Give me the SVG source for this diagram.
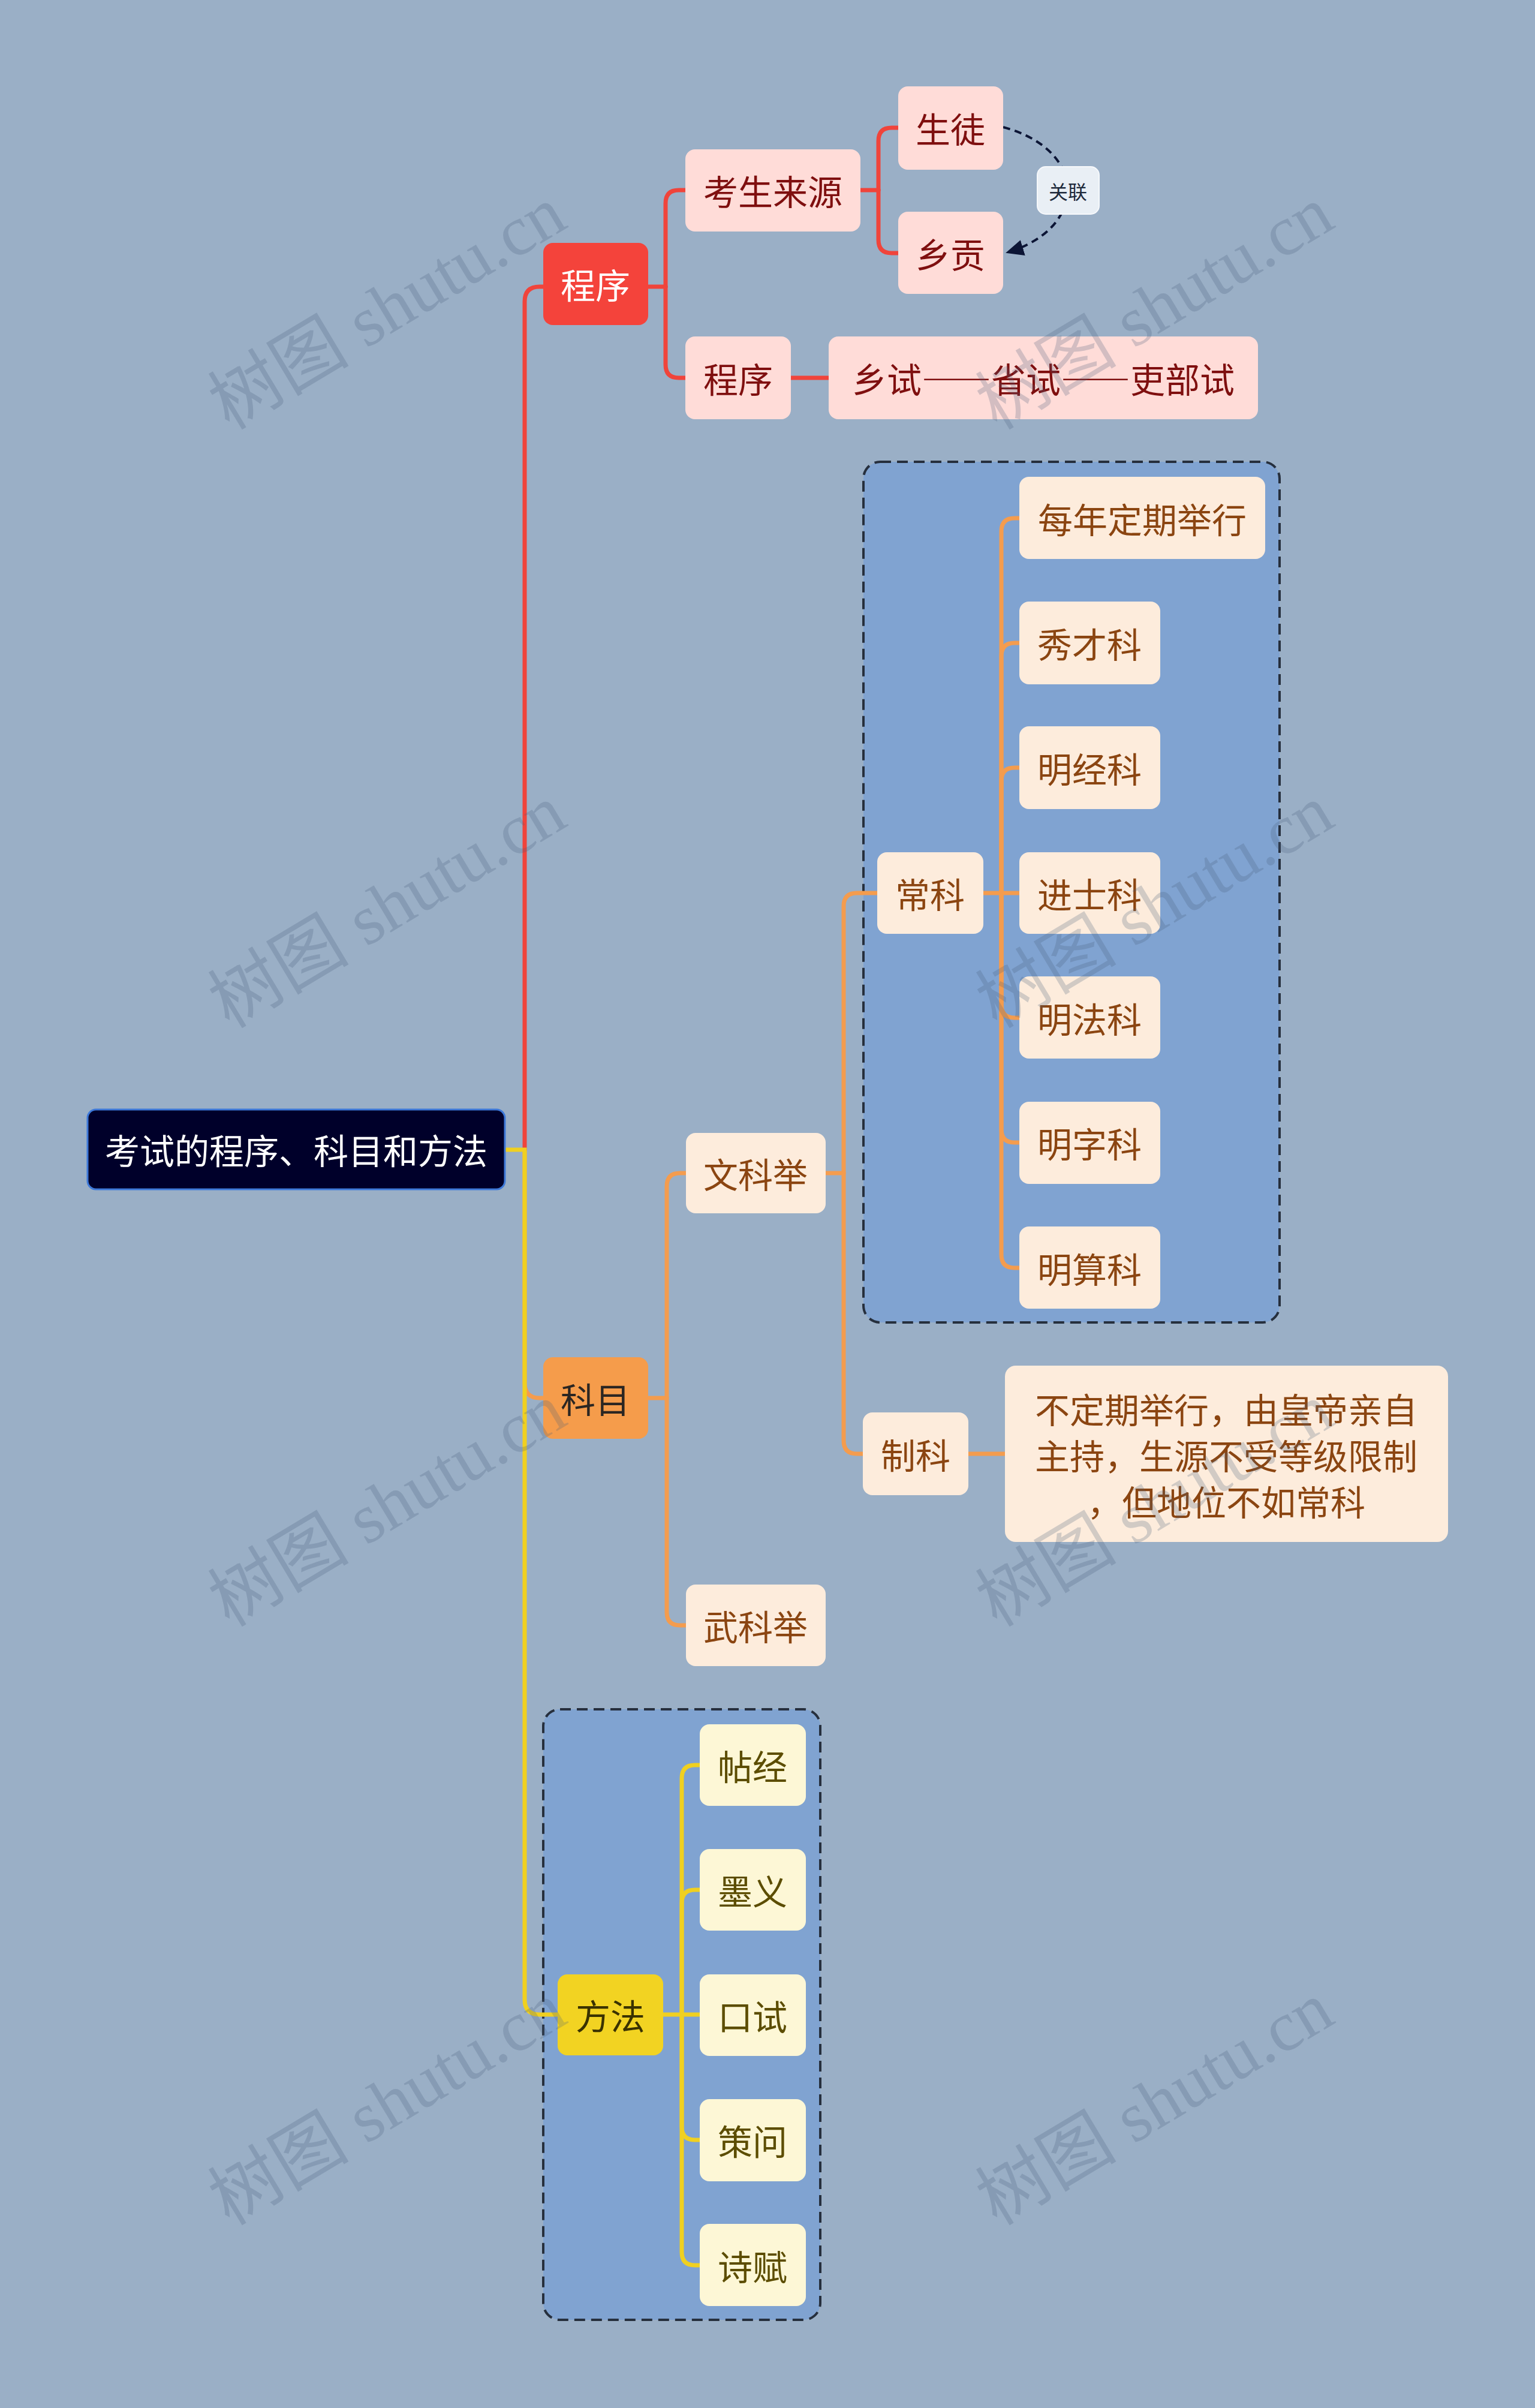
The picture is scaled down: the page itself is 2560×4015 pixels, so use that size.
<svg xmlns="http://www.w3.org/2000/svg" width="2560" height="4015" viewBox="0 0 2560 4015">
<defs>
<style>
.t{font-family:"Noto Sans CJK SC","Noto Sans",sans-serif;font-size:58px;text-anchor:middle;dominant-baseline:central}
.fw{font-variant-east-asian:full-width;font-feature-settings:"fwid" 1}
.root rect{fill:#00002a;stroke:#3d78d8;stroke-width:3}
.root text{fill:#ffffff}
.l1r rect{fill:#f4433b}
.l1r text{fill:#ffffff}
.l1o rect{fill:#f59c4b}
.l1o text{fill:#2b2622}
.l1y rect{fill:#f2d322}
.l1y text{fill:#3a3200}
.l2r rect{fill:#ffdcd8}
.l2r text{fill:#7f0f0f}
.l2o rect{fill:#fdecdc}
.l2o text{fill:#8b4511}
.l2y rect{fill:#fdf7d6}
.l2y text{fill:#5c4d00}
.bound{fill:#80a3d1;stroke:#262f3d;stroke-width:4;stroke-dasharray:18 10}
.c{fill:none;stroke-width:7;stroke-linecap:round}
.cr{stroke:#f0443b}
.co{stroke:#f49c4e}
.cy{stroke:#f0d020}
.rel{fill:none;stroke:#0c1535;stroke-width:4;stroke-dasharray:12 8}
.wm{font-family:"Liberation Serif","Noto Sans CJK SC",serif;font-size:118px;fill:#4a607c;opacity:0.24;text-anchor:middle;dominant-baseline:central}
</style>
<marker id="arrow" viewBox="0 0 10 10" refX="9" refY="5" markerWidth="30" markerHeight="30" orient="auto" markerUnits="userSpaceOnUse">
<path d="M0,0.5 L10,5 L0,9.5 z" fill="#0c1535"/>
</marker>
</defs>
<rect x="0" y="0" width="2560" height="4015" fill="#9aafc6"/>

<g id="boundaries">
<rect class="bound" x="1440" y="770" width="694" height="1435" rx="28"/>
<rect class="bound" x="906" y="2850" width="462" height="1018" rx="28"/>
</g>

<g id="connectors">
<path class="c co" d="M875,1917 V2306 Q875,2331 900,2331 H906"/>
<path class="c cr" d="M875,1917 V503 Q875,478 900,478 H906"/>
<path class="c cy" d="M842,1917 H875 V3334 Q875,3359 900,3359 H930"/>

<path class="c cr" d="M1081,478 H1110"/>
<path class="c cr" d="M1110,478 V339 Q1110,317 1132,317 H1143"/>
<path class="c cr" d="M1110,478 V608 Q1110,630 1132,630 H1143"/>
<path class="c cr" d="M1435,317 H1465"/>
<path class="c cr" d="M1465,317 V235 Q1465,213 1487,213 H1498"/>
<path class="c cr" d="M1465,317 V400 Q1465,422 1487,422 H1498"/>
<path class="c cr" d="M1319,630 H1382"/>

<path class="c co" d="M1080,2331 H1112"/>
<path class="c co" d="M1112,2331 V1978 Q1112,1956 1134,1956 H1144"/>
<path class="c co" d="M1112,2331 V2688 Q1112,2710 1134,2710 H1144"/>
<path class="c co" d="M1377,1956 H1407"/>
<path class="c co" d="M1407,1956 V1511 Q1407,1489 1429,1489 H1463"/>
<path class="c co" d="M1407,1956 V2402 Q1407,2424 1429,2424 H1439"/>
<path class="c co" d="M1615,2424 H1676"/>
<path class="c co" d="M1640,1489 H1670"/>
<path class="c co" d="M1670,1489 V886 Q1670,864 1692,864 H1700"/>
<path class="c co" d="M1670,1489 V1094 Q1670,1072 1692,1072 H1700"/>
<path class="c co" d="M1670,1489 V1302 Q1670,1280 1692,1280 H1700"/>
<path class="c co" d="M1670,1489 H1700"/>
<path class="c co" d="M1670,1489 V1675 Q1670,1697 1692,1697 H1700"/>
<path class="c co" d="M1670,1489 V1883 Q1670,1905 1692,1905 H1700"/>
<path class="c co" d="M1670,1489 V2092 Q1670,2114 1692,2114 H1700"/>

<path class="c cy" d="M1106,3359 H1137"/>
<path class="c cy" d="M1137,3359 V2965 Q1137,2943 1159,2943 H1167"/>
<path class="c cy" d="M1137,3359 V3173 Q1137,3151 1159,3151 H1167"/>
<path class="c cy" d="M1137,3359 H1167"/>
<path class="c cy" d="M1137,3359 V3546 Q1137,3568 1159,3568 H1167"/>
<path class="c cy" d="M1137,3359 V3755 Q1137,3777 1159,3777 H1167"/>

<path class="rel" d="M1673,212 C1815,250 1815,380 1680,421" marker-end="url(#arrow)"/>
</g>

<g id="node-root" class="root"><rect x="146" y="1850" width="696" height="133" rx="14"/><text class="t" x="494" y="1916">考试的程序、科目和方法</text></g>

<g id="node-chengxu" class="l1r"><rect x="906" y="405" width="175" height="137" rx="16"/><text class="t" x="993" y="473">程序</text></g>
<g id="node-kemu" class="l1o"><rect x="906" y="2263" width="175" height="136" rx="16"/><text class="t" x="993" y="2331">科目</text></g>
<g id="node-fangfa" class="l1y"><rect x="930" y="3292" width="176" height="135" rx="16"/><text class="t" x="1018" y="3359">方法</text></g>

<g id="node-kaoshenglaiyuan" class="l2r"><rect x="1143" y="249" width="292" height="137" rx="16"/><text class="t" x="1289" y="317">考生来源</text></g>
<g id="node-chengxu2" class="l2r"><rect x="1143" y="561" width="176" height="138" rx="16"/><text class="t" x="1231" y="630">程序</text></g>
<g id="node-xiangshi" class="l2r"><rect x="1382" y="561" width="716" height="138" rx="16"/><text class="t fw" x="1740" y="630">乡试——省试——吏部试</text></g>
<g id="node-shengtu" class="l2r"><rect x="1498" y="144" width="175" height="139" rx="16"/><text class="t" x="1585" y="213">生徒</text></g>
<g id="node-xianggong" class="l2r"><rect x="1498" y="353" width="175" height="137" rx="16"/><text class="t" x="1585" y="422">乡贡</text></g>
<g id="label-guanlian"><rect x="1730" y="278" width="103" height="79" rx="14" fill="#e9eff5" stroke="#f6f8fb" stroke-width="2"/><text x="1781" y="318" font-family="Noto Sans CJK SC,sans-serif" font-size="32" fill="#1e2a3c" text-anchor="middle" dominant-baseline="central">关联</text></g>

<g id="node-wenkeju" class="l2o"><rect x="1144" y="1889" width="233" height="134" rx="16"/><text class="t" x="1260" y="1956">文科举</text></g>
<g id="node-wukeju" class="l2o"><rect x="1144" y="2642" width="233" height="136" rx="16"/><text class="t" x="1260" y="2710">武科举</text></g>
<g id="node-changke" class="l2o"><rect x="1463" y="1421" width="177" height="136" rx="16"/><text class="t" x="1551" y="1489">常科</text></g>
<g id="node-zhike" class="l2o"><rect x="1439" y="2355" width="176" height="138" rx="16"/><text class="t" x="1527" y="2424">制科</text></g>
<g id="node-zhike-desc" class="l2o"><rect x="1676" y="2277" width="739" height="294" rx="18"/><text class="t"><tspan x="2045" y="2348">不定期举行，由皇帝亲自</tspan><tspan x="2045" y="2425">主持，生源不受等级限制</tspan><tspan x="2045" y="2502">，但地位不如常科</tspan></text></g>
<g id="node-meinian" class="l2o"><rect x="1700" y="795" width="410" height="137" rx="16"/><text class="t" x="1905" y="864">每年定期举行</text></g>
<g id="node-xiucai" class="l2o"><rect x="1700" y="1003" width="235" height="138" rx="16"/><text class="t" x="1817" y="1072">秀才科</text></g>
<g id="node-mingjing" class="l2o"><rect x="1700" y="1211" width="235" height="138" rx="16"/><text class="t" x="1817" y="1280">明经科</text></g>
<g id="node-jinshi" class="l2o"><rect x="1700" y="1421" width="235" height="136" rx="16"/><text class="t" x="1817" y="1489">进士科</text></g>
<g id="node-mingfa" class="l2o"><rect x="1700" y="1628" width="235" height="137" rx="16"/><text class="t" x="1817" y="1697">明法科</text></g>
<g id="node-mingzi" class="l2o"><rect x="1700" y="1837" width="235" height="137" rx="16"/><text class="t" x="1817" y="1905">明字科</text></g>
<g id="node-mingsuan" class="l2o"><rect x="1700" y="2045" width="235" height="137" rx="16"/><text class="t" x="1817" y="2114">明算科</text></g>

<g id="node-tiejing" class="l2y"><rect x="1167" y="2875" width="177" height="136" rx="16"/><text class="t" x="1255" y="2943">帖经</text></g>
<g id="node-moyi" class="l2y"><rect x="1167" y="3083" width="177" height="136" rx="16"/><text class="t" x="1255" y="3151">墨义</text></g>
<g id="node-koushi" class="l2y"><rect x="1167" y="3292" width="177" height="136" rx="16"/><text class="t" x="1255" y="3360">口试</text></g>
<g id="node-cewen" class="l2y"><rect x="1167" y="3500" width="177" height="137" rx="16"/><text class="t" x="1255" y="3568">策问</text></g>
<g id="node-shifu" class="l2y"><rect x="1167" y="3708" width="177" height="137" rx="16"/><text class="t" x="1255" y="3777">诗赋</text></g>

<g id="watermarks">
<text class="wm" x="646" y="514" transform="rotate(-31 646 514)">树图 shutu.cn</text>
<text class="wm" x="646" y="1512" transform="rotate(-31 646 1512)">树图 shutu.cn</text>
<text class="wm" x="646" y="2510" transform="rotate(-31 646 2510)">树图 shutu.cn</text>
<text class="wm" x="646" y="3508" transform="rotate(-31 646 3508)">树图 shutu.cn</text>
<text class="wm" x="1926" y="514" transform="rotate(-31 1926 514)">树图 shutu.cn</text>
<text class="wm" x="1926" y="1512" transform="rotate(-31 1926 1512)">树图 shutu.cn</text>
<text class="wm" x="1926" y="2510" transform="rotate(-31 1926 2510)">树图 shutu.cn</text>
<text class="wm" x="1926" y="3508" transform="rotate(-31 1926 3508)">树图 shutu.cn</text>
</g>
</svg>
